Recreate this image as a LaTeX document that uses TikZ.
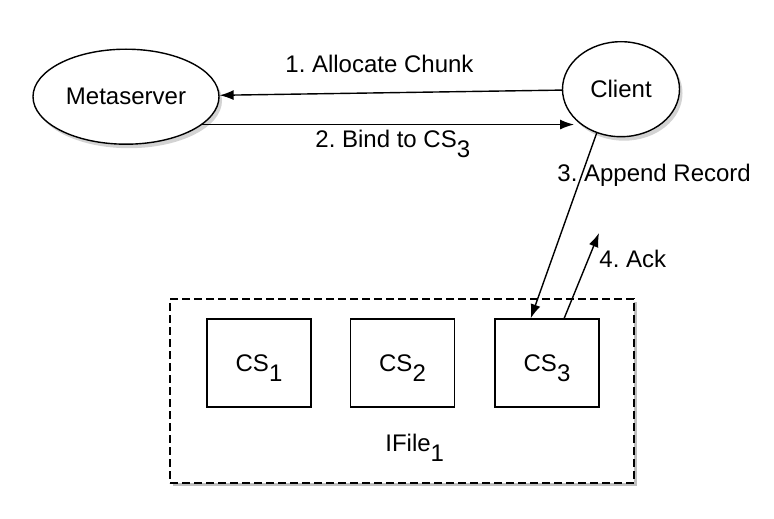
\documentclass[tikz,border=0pt]{standalone}
\usepackage{fontspec}
\setmainfont{Liberation Sans}
\usepackage{tikz}
\usetikzlibrary{arrows.meta}
\usetikzlibrary{shapes.geometric,positioning,shadows}
\frenchspacing
% digit set low, same size as the text
\newcommand{\lowdigit}[1]{\raisebox{-5pt}[\height][0pt]{#1}}
\tikzset{
    blackarrow/.style={
        line width=0.7pt,
        black,
        -{Latex[length=7pt, width=5pt]}
    },
    % ellipse nodes with shadow
    ovalnode/.style={
        ellipse,
        draw,
        line width=0.7pt,
        fill=white,
        inner sep=0pt,
        minimum height=47.5pt,
        drop shadow={shadow xshift=1.5pt, shadow yshift=-2pt, opacity=0.35}
    },
    csbox/.style={
        rectangle,
        draw,
        line width=0.7pt,
        fill=white,
        minimum width=52pt,
        minimum height=44pt
    },
    labeltext/.style={
        inner sep=0pt,
        anchor=base west
    }
}

\begin{document}
\begin{tikzpicture}[x=0.5pt,y=-0.5pt,font=\fontsize{12}{14}\selectfont]
    \useasboundingbox (0,0) rectangle (774,518);

    % ===================== 文件 IFile_1 =====================
    \node[rectangle,draw,dash pattern=on 4pt off 2pt,line width=0.7pt,fill=white,
          minimum width=232pt,minimum height=92pt,
          drop shadow={shadow xshift=1.5pt, shadow yshift=-1.5pt, opacity=0.5}]
          (ifile) at (402,391) {};
    \node[csbox] (cs1) at (259,363) {CS\lowdigit{1}};
    \node[csbox] (cs2) at (402.5,363) {CS\lowdigit{2}};
    \node[csbox] (cs3) at (547,363) {CS\lowdigit{3}};
    \node[labeltext] (ifilelabel) at (385,451) {IFile\lowdigit{1}};

    % ===================== Metaserver / Client =====================
    \node[ovalnode,minimum width=93pt] (meta) at (126,96.7) {Metaserver};
    \node[ovalnode,minimum width=58.5pt] (client) at (621,89.2) {Client};
    \coordinate (ack) at (599,233);

    % 箭头
    \draw[blackarrow] (client) -- (meta);
    \draw[blackarrow] (meta.-20) -- (meta.-20 -| client.-148);
    \draw[blackarrow] (client.-119) -- (cs3.110);
    \draw[blackarrow] (cs3.69) -- (ack);

    % 文本标注
    \node[labeltext] (allocate) at (285,73) {1. Allocate Chunk};
    \node[labeltext] (bind) at (315,148) {2. Bind to CS\lowdigit{3}};
    \node[labeltext] (append) at (557,181) {3. Append Record};
    \node[labeltext] (acklabel) at (599,267) {4. Ack};
\end{tikzpicture}
\end{document}
